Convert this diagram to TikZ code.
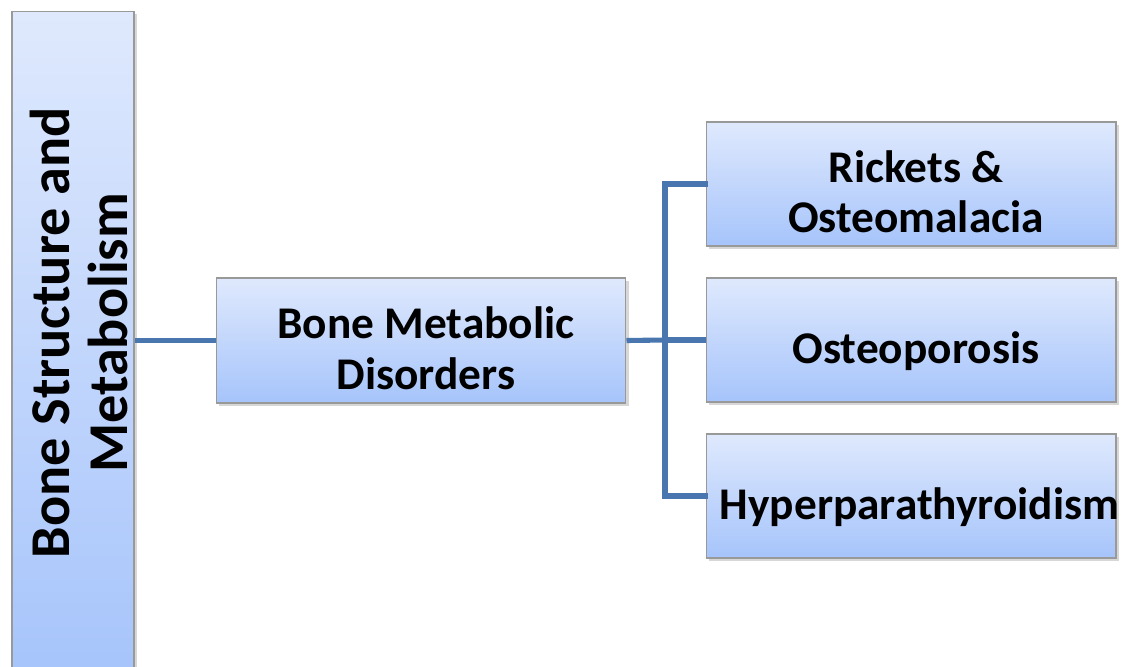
\documentclass[tikz,border=0pt]{standalone}
\usepackage{fontspec}
\setmainfont{Carlito}
\usepackage{tikz}
\usetikzlibrary{calc,shadows}
\definecolor{boxtop}{HTML}{DFE9FD}
\definecolor{boxbot}{HTML}{A6C4FB}
\definecolor{linkblue}{HTML}{4A76B0}
\newcommand{\lowered}[1]{\hspace{0.2cm}\raisebox{-0.27cm}[\height][\depth]{\begin{tabular}{@{}c@{}}#1\end{tabular}}}
\tikzset{
  topicbox/.style={draw=gray!80,line width=0.6pt,top color=boxtop,bottom color=boxbot,
    drop shadow={shadow xshift=0.06cm,shadow yshift=-0.06cm,opacity=0.45,fill=gray!70},
    font=\fontsize{25.8}{28.5}\selectfont\bfseries,align=center,inner sep=0pt},
  link/.style={draw=linkblue,line width=2.9pt}
}

\begin{document}
\begin{tikzpicture}[x=0.02cm,y=-0.02cm]
\clip (0,0) rectangle (1124,666);
% linker balk
\node[topicbox,minimum width=2.44cm,minimum height=13.36cm,font=\fontsize{32}{33}\selectfont\bfseries] (root) at (73,345)
  {\rotatebox{90}{\hspace{0.48cm}\raisebox{-0.28cm}[\height][\depth]{\begin{tabular}{@{}c@{}}Bone Structure and\\Metabolism\end{tabular}}}};
% midden
\node[topicbox,minimum width=8.2cm,minimum height=2.5cm] (bmd) at (421,340.5)
  {\lowered{Bone Metabolic\\Disorders}};
% rechts
\node[topicbox,minimum width=8.2cm,minimum height=2.48cm] (rick) at (911,184)
  {\lowered{Rickets \&\\Osteomalacia}};
\node[topicbox,minimum width=8.2cm,minimum height=2.48cm] (osteo) at (911,340)
  {\lowered{Osteoporosis}};
\node[topicbox,minimum width=8.2cm,minimum height=2.48cm] (hyper) at (911,496) {};
\node[font=\fontsize{25.8}{28.5}\selectfont\bfseries,anchor=west,inner sep=0pt] (hypertxt) at ($(hyper.west)+(14,11)$)
  {Hyperparathyroidism};
% verbindingen
\draw[link] (bmd.west -| root.east) -- (bmd.west);
\coordinate (fork) at (665,340);
\draw[link] (bmd.east) -- (fork);
\draw[link,line cap=rect] (fork) |- (rick.west);
\draw[link] (fork) -- (osteo.west);
\draw[link,line cap=rect] (fork) |- (hyper.west);
\end{tikzpicture}
\end{document}
